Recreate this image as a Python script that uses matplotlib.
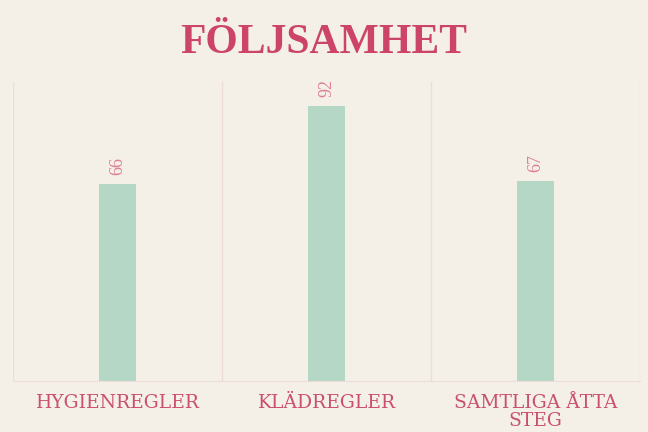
import matplotlib.pyplot as plt
import numpy as np

categories = ['HYGIENREGLER', 'KLÄDREGLER', 'SAMTLIGA ÅTTA\nSTEG']
values = [66, 92, 67]

bg = '#f4f0e7'
bar_color = '#b4d7c6'
title_color = '#cc4569'
tick_color = '#c9506e'
label_color = '#de8196'
grid_color = '#eedcd8'

plt.rcParams['font.family'] = ['Liberation Serif', 'DejaVu Serif']

fig = plt.figure(figsize=(6.48, 4.32), dpi=100, facecolor=bg)
ax = fig.add_axes([0.020, 0.118, 0.968, 0.692])
ax.set_facecolor(bg)

x = np.arange(len(categories))
bars = ax.bar(x, values, width=0.18, color=bar_color, zorder=2)

for xi, v in zip(x, values):
    ax.text(xi, v + 3, str(v), rotation=90, ha='center', va='bottom',
            color=label_color, fontsize=13)

ax.set_xlim(-0.5, len(categories) - 0.5)
ax.set_ylim(0, 100)
ax.set_yticks([])
ax.set_xticks(x)
ax.set_xticklabels(categories, color=tick_color, fontsize=13.5,
                   linespacing=1.05, family=['DejaVu Serif'])
ax.tick_params(axis='x', length=0, pad=9)

for b in np.arange(-0.5, len(categories), 1.0):
    ax.axvline(b, color=grid_color, lw=1, zorder=1)

for s in ['top', 'left', 'right']:
    ax.spines[s].set_visible(False)
ax.spines['bottom'].set_color(grid_color)

fig.text(0.5, 0.9, 'FÖLJSAMHET', ha='center', va='center',
         color=title_color, fontsize=30, fontweight='bold')

fig.savefig('out.png', dpi=100, facecolor=bg)
